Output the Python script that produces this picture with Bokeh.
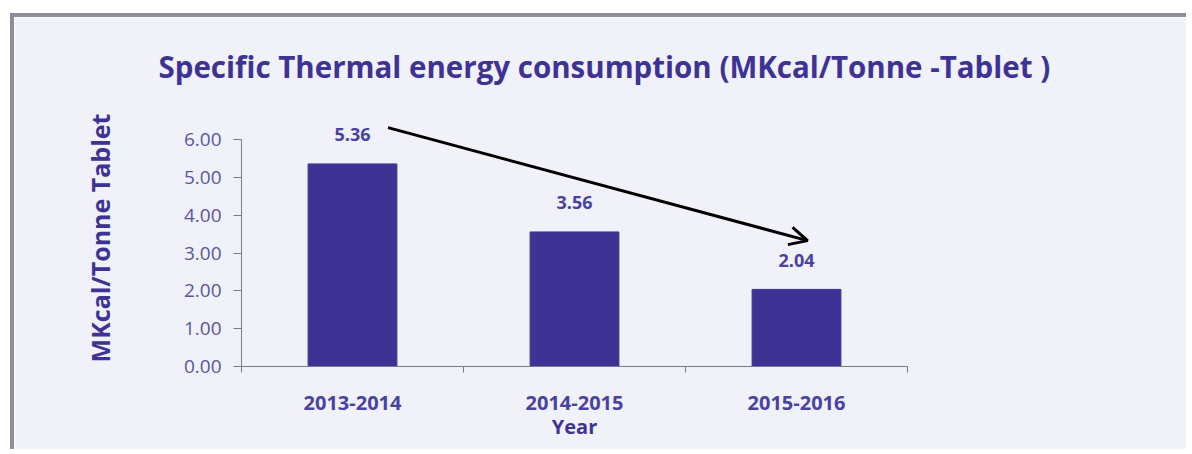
from bokeh.plotting import figure
from bokeh.models import (FixedTicker, NumeralTickFormatter, Arrow, OpenHead,
                          ColumnDataSource, Range1d)
from bokeh.core.properties import value
from bokeh.embed import file_html
from bokeh.resources import INLINE

years = ["2013-2014", "2014-2015", "2015-2016"]
consumption = [5.36, 3.56, 2.04]
value_labels = ["5.36", "3.56", "2.04"]
y_ticks = [0, 1, 2, 3, 4, 5, 6]

xpos = [i + 0.5 for i in range(len(years))]
src = ColumnDataSource(dict(x=xpos, top=consumption, lab=value_labels))

BG = "#f0f1f9"
PURPLE = "#3e3394"
FONT = "Open Sans"

p = figure(width=1176, height=436, output_backend="svg", toolbar_location=None,
           x_range=Range1d(0, 3), y_range=Range1d(0, 6.8),
           min_border_left=227, min_border_right=283, min_border_top=92,
           min_border_bottom=87,
           background_fill_color=BG, border_fill_color=BG,
           title="Specific Thermal energy consumption (MKcal/Tonne -Tablet )")
p.styles = {"border-top": "4px solid #8d8d9c", "border-left": "4px solid #8d8d9c",
            "margin-top": "13px", "margin-left": "10px"}

p.title.text_font = FONT
p.title.text_font_size = "29.5px"
p.title.text_font_style = "bold"
p.title.text_color = PURPLE
p.title.align = "left"
p.title.offset = -83
p.title.standoff = 46

p.outline_line_color = None
p.xgrid.visible = False
p.ygrid.visible = False

p.vbar(x="x", top="top", width=0.4, source=src, fill_color=PURPLE, line_color=PURPLE)
p.text(x="x", y="top", text="lab", source=src, text_align="center",
       text_baseline="middle", y_offset=-29, text_font=value(FONT),
       text_font_size="18px", text_font_style="bold", text_color="#4a42a0")

p.add_layout(Arrow(end=OpenHead(size=18, line_width=3, line_color="black"),
                   x_start=0.66, y_start=6.32, x_end=2.55, y_end=3.33,
                   line_width=3, line_color="black"))

# axes
p.xaxis.ticker = FixedTicker(ticks=xpos, minor_ticks=[0, 1, 2, 3])
p.xaxis.major_label_overrides = {x: y for x, y in zip(xpos, years)}
p.xaxis.major_tick_out = 0
p.xaxis.major_tick_in = 0
p.xaxis.minor_tick_out = 6
p.xaxis.minor_tick_in = 0
p.xaxis.major_label_standoff = 23
p.xaxis.axis_line_color = "#7a7a86"
p.xaxis.minor_tick_line_color = "#7a7a86"
p.xaxis.major_label_text_font = FONT
p.xaxis.major_label_text_font_size = "20px"
p.xaxis.major_label_text_font_style = "bold"
p.xaxis.major_label_text_color = "#4a42a0"
p.xaxis.axis_label = "Year"
p.xaxis.axis_label_standoff = 0
p.xaxis.axis_label_text_font = FONT
p.xaxis.axis_label_text_font_size = "20px"
p.xaxis.axis_label_text_font_style = "bold"
p.xaxis.axis_label_text_color = PURPLE

p.yaxis.ticker = FixedTicker(ticks=y_ticks, minor_ticks=[])
p.yaxis.bounds = (0, 6)
p.yaxis.formatter = NumeralTickFormatter(format="0.00")
p.yaxis.major_tick_out = 8
p.yaxis.major_tick_in = 0
p.yaxis.axis_line_color = "#7a7a86"
p.yaxis.major_tick_line_color = "#7a7a86"
p.yaxis.major_label_text_font = FONT
p.yaxis.major_label_text_font_size = "19px"
p.yaxis.major_label_text_color = "#5a55a0"
p.yaxis.major_label_standoff = 12
p.yaxis.axis_label = "MKcal/Tonne Tablet"
p.yaxis.axis_label_text_font = FONT
p.yaxis.axis_label_text_font_size = "25px"
p.yaxis.axis_label_text_font_style = "bold"
p.yaxis.axis_label_text_color = PURPLE
p.yaxis.axis_label_standoff = 64

open("out.html", "w").write(file_html(p, INLINE))
